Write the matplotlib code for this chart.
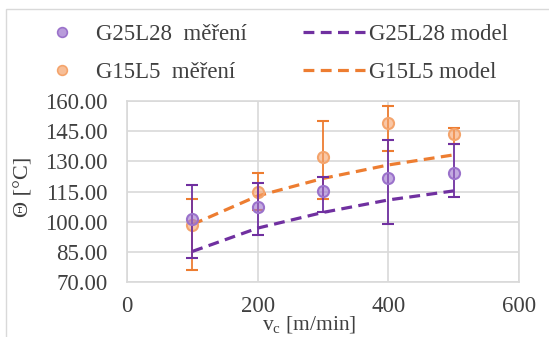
import numpy as np
import matplotlib
matplotlib.use("Agg")
import matplotlib.pyplot as plt
from matplotlib.lines import Line2D
from matplotlib.patches import Rectangle

plt.rcParams['font.family'] = ['Liberation Serif', 'DejaVu Serif']
plt.rcParams['mathtext.fontset'] = 'custom'
plt.rcParams['mathtext.rm'] = 'Liberation Serif'
plt.rcParams['mathtext.it'] = 'Liberation Serif'

# cutting speed [m/min]
vc = [100, 200, 300, 400, 500]

# measured temperatures with asymmetric error bars
g25_meas = [101.5, 107.5, 115.4, 121.5, 124.3]
g25_err_lo = [19.8, 14.2, 10.5, 22.7, 12.2]
g25_err_hi = [16.7, 11.9, 6.9, 19.1, 14.3]

g15_meas = [98.2, 114.7, 132.3, 148.9, 143.4]
g15_err_lo = [22.3, 9.0, 21.2, 13.6, 4.8]
g15_err_hi = [13.0, 9.3, 17.9, 8.6, 3.0]

# model curves
g25_model = [85.2, 96.8, 104.6, 110.8, 115.3]
g15_model = [98.6, 112.8, 121.5, 128.2, 133.2]

xticks = [0, 200, 400, 600]
yticks = [70, 85, 100, 115, 130, 145, 160]

purple = '#7030A0'
purple_pt = '#9B72CB'
orange = '#ED7D31'
orange_pt = '#F4A46C'
grid_c = '#D9D9D9'
txt_c = '#404040'
dash = (0, (3.4, 2.0))

fig = plt.figure(figsize=(5.49, 3.37), dpi=100)
ax = fig.add_axes([127/549, 1-282/337, (519-127)/549, (282-101)/337])

# chart frame
fig.patches.append(Rectangle((6/549, -0.1), 1.2, 1.1 - 9/337,
                             transform=fig.transFigure, fill=False,
                             edgecolor=grid_c, lw=1.0))

ax.plot(vc, g25_model, ls=dash, color=purple, lw=2.3, zorder=3)
ax.plot(vc, g15_model, ls=dash, color=orange, lw=2.3, zorder=3)

ax.errorbar(vc, g15_meas, yerr=[g15_err_lo, g15_err_hi], fmt='o', ms=8,
            color=orange, ecolor=orange, elinewidth=1.3, capsize=4,
            capthick=1.3, mfc=(0.96, 0.64, 0.42, 0.6), mec=orange_pt,
            mew=1.5, zorder=4)
ax.errorbar(vc, g25_meas, yerr=[g25_err_lo, g25_err_hi], fmt='o', ms=8,
            color=purple, ecolor=purple, elinewidth=1.3, capsize=4,
            capthick=1.3, mfc=(0.61, 0.45, 0.80, 0.6), mec=purple_pt,
            mew=1.5, zorder=5)

ax.set_xlim(0, 600)
ax.set_ylim(70, 160)
ax.set_xticks(xticks)
ax.set_yticks(yticks)
ax.set_yticklabels([f"{v:.2f}" for v in yticks])
ax.tick_params(length=0, labelsize=16.5, colors=txt_c)
ax.tick_params(axis='y', pad=14)
ax.tick_params(axis='x', pad=10)
ax.grid(True, color=grid_c, lw=1.2)
ax.set_axisbelow(True)
for s in ax.spines.values():
    s.set_color(grid_c)
    s.set_linewidth(1.2)

fig.text(24/549, 1-187/337, 'Θ [°C]', rotation=90, ha='center', va='center',
         fontsize=16, color=txt_c)
fig.text(309/549, 2/337, r'v$_\mathrm{c}$ [m/min]', ha='center',
         va='bottom', fontsize=15.5, color=txt_c)

handles = [
    Line2D([], [], ls='none', marker='o', ms=7, mfc=(0.61, 0.45, 0.80, 0.7),
           mec=purple_pt, mew=1.2),
    Line2D([], [], ls='none', marker='o', ms=7, mfc=(0.96, 0.64, 0.42, 0.7),
           mec=orange_pt, mew=1.2),
    Line2D([], [], ls=dash, color=purple, lw=2.3),
    Line2D([], [], ls=dash, color=orange, lw=2.3),
]
labels = ['G25L28  měření', 'G15L5  měření', 'G25L28 model', 'G15L5 model']
fig.legend(handles, labels, ncol=2, loc='upper left',
           bbox_to_anchor=(22/549, 1-15/337), frameon=False, fontsize=16.5,
           handlelength=2.7, handletextpad=0.15, columnspacing=2.45,
           labelspacing=0.75, borderaxespad=0, labelcolor=txt_c)

fig.savefig('out.png', dpi=100)
